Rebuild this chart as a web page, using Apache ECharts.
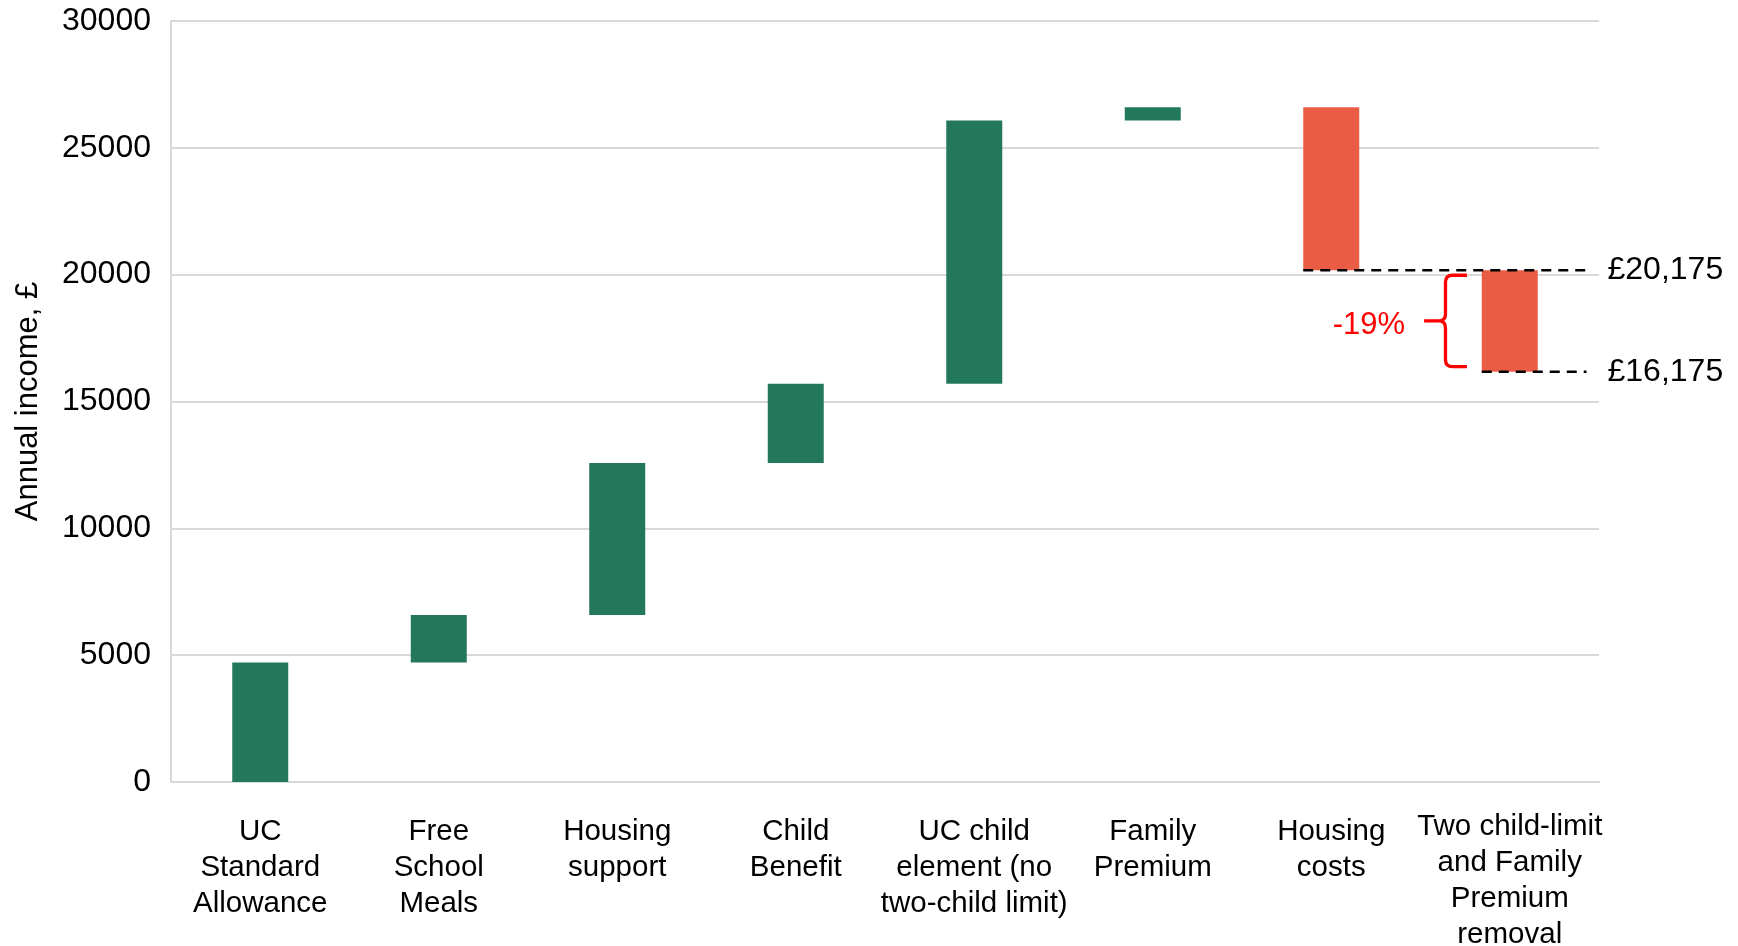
<!DOCTYPE html>
<html>
<head>
<meta charset="utf-8">
<title>Annual income waterfall</title>
<script src="https://cdn.jsdelivr.net/npm/echarts@6/dist/echarts.min.js"></script>
<style>
  html, body { margin: 0; padding: 0; background: #ffffff; }
  #chart { width: 1738px; height: 946px; }
</style>
</head>
<body>
<div id="chart"></div>
<script>
// Waterfall steps: each category adds (or removes) an amount of annual income
const categories = [
  'UC\nStandard\nAllowance',
  'Free\nSchool\nMeals',
  'Housing\nsupport',
  'Child\nBenefit',
  'UC child\nelement (no\ntwo-child limit)',
  'Family\nPremium',
  'Housing\ncosts',
  'Two child-limit\nand Family\nPremium\nremoval'
];
const changes = [4710, 1870, 6000, 3120, 10380, 520, -6425, -4000];
const yTicks = [0, 5000, 10000, 15000, 20000, 25000, 30000];
const changeText = '-19%';
const axisTitle = 'Annual income, £';

const FONT = "'Liberation Sans', Arial, Helvetica, sans-serif";
const GREEN = '#23775A';
const RED = '#EA5C43';
const GRID = '#D9D9D9';

// Running totals, then the hidden base and the visible step of each bar
const totals = [];
changes.reduce((acc, c) => { const t = acc + c; totals.push(t); return t; }, 0);
const starts = totals.map((t, i) => t - changes[i]);
const baseVals = totals.map((t, i) => Math.min(t, starts[i]));
const stepVals = changes.map(c => Math.abs(c));

const fmtPounds = v => '£' + v.toLocaleString('en-GB');

// The two net totals after housing costs, marked with dashed lines
const last = categories.length - 1;
const markedLines = [
  [last - 1, totals[last - 1], fmtPounds(totals[last - 1])],
  [last, totals[last], fmtPounds(totals[last])]
];

// The long four-line label sits a little higher than the others
const categoryItems = categories.map((c, i) => (
  i === last ? { value: c, textStyle: { padding: [0, 0, 0, 0] } } : c
));

const chart = echarts.init(document.getElementById('chart'));

chart.setOption({
  animation: false,
  backgroundColor: '#ffffff',
  textStyle: { fontFamily: FONT },
  grid: { left: 171, right: 139, top: 21, bottom: 164, containLabel: false, outerBoundsMode: 'none' },
  xAxis: {
    type: 'category',
    data: categoryItems,
    axisLine: { show: true, lineStyle: { color: GRID, width: 2 } },
    axisTick: { show: false },
    axisLabel: {
      interval: 0, color: '#000', fontSize: 29.5, lineHeight: 36,
      margin: 27, padding: [5, 0, 0, 0], fontFamily: FONT, align: 'center'
    },
    splitLine: { show: false }
  },
  yAxis: {
    type: 'value',
    min: yTicks[0],
    max: yTicks[yTicks.length - 1],
    interval: yTicks[1] - yTicks[0],
    name: axisTitle,
    nameLocation: 'middle',
    nameGap: 127,
    nameTextStyle: { color: '#000', fontSize: 31, fontFamily: FONT },
    axisLine: { show: true, lineStyle: { color: GRID, width: 2 } },
    axisTick: { show: false },
    axisLabel: {
      color: '#000', fontSize: 32, margin: 20, fontFamily: FONT,
      formatter: v => String(v)
    },
    splitLine: { show: true, lineStyle: { color: GRID, width: 2 } }
  },
  series: [
    {
      name: 'base',
      type: 'bar',
      stack: 'wf',
      barWidth: 56,
      silent: true,
      itemStyle: { color: 'transparent' },
      data: baseVals
    },
    {
      name: 'step',
      type: 'bar',
      stack: 'wf',
      barWidth: 56,
      data: stepVals.map((v, i) => ({
        value: v,
        itemStyle: { color: changes[i] >= 0 ? GREEN : RED }
      }))
    },
    {
      // Dashed reference lines with their £ labels
      name: 'totals',
      type: 'custom',
      clip: false,
      z: 5,
      data: markedLines,
      encode: { x: 0, y: 1 },
      renderItem: function (params, api) {
        const idx = api.value(0);
        const val = api.value(1);
        const band = api.size([1, 0])[0];
        const p = api.coord([idx, val]);
        const endX = api.coord([last, val])[0] + 0.43 * band;
        const startX = p[0] - 28;
        return {
          type: 'group',
          children: [
            {
              type: 'line',
              shape: { x1: startX, y1: p[1], x2: endX, y2: p[1] },
              style: { stroke: '#000', lineWidth: 2.5, lineDash: [10, 7] }
            },
            {
              type: 'text',
              style: {
                x: endX + 21, y: p[1],
                text: markedLines[params.dataIndex][2],
                fill: '#000', fontSize: 32, fontFamily: FONT,
                align: 'left', verticalAlign: 'middle'
              }
            }
          ]
        };
      }
    },
    {
      // Curly brace spanning the final reduction, with its percentage
      name: 'brace',
      type: 'custom',
      clip: false,
      z: 5,
      data: [[last, totals[last - 1], totals[last]]],
      encode: { x: 0, y: [1, 2] },
      renderItem: function (params, api) {
        const idx = api.value(0);
        const band = api.size([1, 0])[0];
        const cx = api.coord([idx, api.value(1)])[0];
        const yTop = api.coord([idx, api.value(1)])[1] + 5;
        const yBot = api.coord([idx, api.value(2)])[1] - 5;
        const yMid = (yTop + yBot) / 2;
        const xRight = cx - 0.24 * band;
        const xStem = cx - 0.36 * band;
        const xTip = cx - 0.48 * band;
        const r = 7;
        const d =
          'M' + xRight + ' ' + yTop +
          ' L' + (xStem + r) + ' ' + yTop +
          ' Q' + xStem + ' ' + yTop + ' ' + xStem + ' ' + (yTop + r) +
          ' L' + xStem + ' ' + (yMid - r) +
          ' Q' + xStem + ' ' + yMid + ' ' + (xStem - r) + ' ' + yMid +
          ' L' + xTip + ' ' + yMid +
          ' M' + (xStem - r) + ' ' + yMid +
          ' Q' + xStem + ' ' + yMid + ' ' + xStem + ' ' + (yMid + r) +
          ' L' + xStem + ' ' + (yBot - r) +
          ' Q' + xStem + ' ' + yBot + ' ' + (xStem + r) + ' ' + yBot +
          ' L' + xRight + ' ' + yBot;
        return {
          type: 'group',
          children: [
            {
              type: 'path',
              shape: { pathData: d },
              style: { fill: null, stroke: '#FF0000', lineWidth: 3.3 }
            },
            {
              type: 'text',
              style: {
                x: xTip - 19, y: yMid + 4,
                text: changeText,
                fill: '#FF0000', fontSize: 31, fontFamily: FONT,
                align: 'right', verticalAlign: 'middle'
              }
            }
          ]
        };
      }
    }
  ]
});
</script>
</body>
</html>
